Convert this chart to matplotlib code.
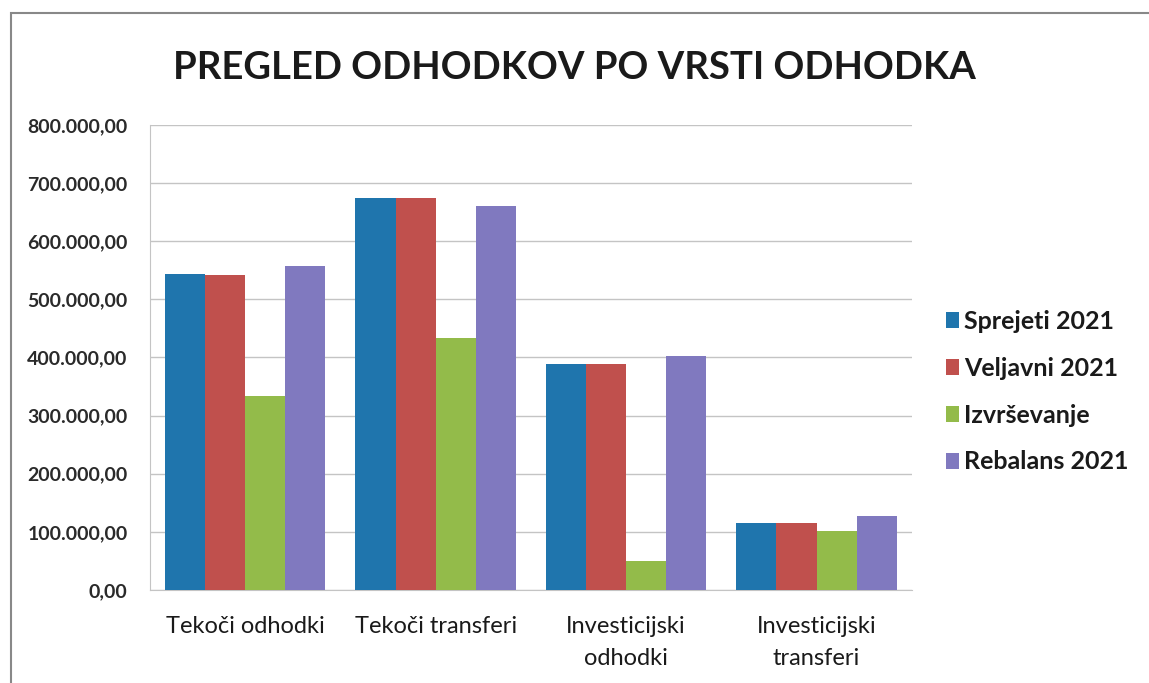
import matplotlib.pyplot as plt
import numpy as np
from matplotlib.patches import Rectangle

categories = ["Tekoči odhodki", "Tekoči transferi", "Investicijski\nodhodki", "Investicijski\ntransferi"]
series_names = ["Sprejeti 2021", "Veljavni 2021", "Izvrševanje", "Rebalans 2021"]
sprejeti = [544000, 675000, 389500, 114500]
veljavni = [541000, 675000, 389500, 114500]
izvrsevanje = [334000, 433500, 50000, 102000]
rebalans = [557000, 660000, 402000, 128000]
yticks = [0, 100000, 200000, 300000, 400000, 500000, 600000, 700000, 800000]

colors = ["#1f75ad", "#c0504d", "#93bb4a", "#8079bf"]
font = "Lato"

fig = plt.figure(figsize=(11.49, 6.83), dpi=100)
ax = fig.add_axes([0.1305, 0.1362, 0.663, 0.681])

x = np.arange(len(categories))
w = 1 / 4.75
for i, vals in enumerate([sprejeti, veljavni, izvrsevanje, rebalans]):
    ax.bar(x + (i - 1.5) * w, vals, width=w, color=colors[i], label=series_names[i], zorder=3)

ax.set_xlim(-0.5, len(categories) - 0.5)
ax.set_ylim(0, 800000)
ax.set_yticks(yticks)
ax.set_yticklabels([f"{v:,.2f}".replace(",", "X").replace(".", ",").replace("X", ".") for v in yticks],
                   fontsize=14, fontfamily=font, fontweight="bold", color="#2a2a2a")
ax.set_xticks(x)
ax.set_xticklabels(categories, fontsize=17, fontfamily=font, color="#1a1a1a", linespacing=1.6)
ax.tick_params(axis="x", length=0, pad=19)
ax.tick_params(axis="y", length=0, pad=16)
ax.grid(axis="y", color="#c4c4c4", linewidth=1, zorder=0)
for s in ["top", "right"]:
    ax.spines[s].set_visible(False)
for s in ["left", "bottom"]:
    ax.spines[s].set_color("#c4c4c4")

leg = ax.legend(loc="center left", bbox_to_anchor=(1.015, 0.426), frameon=False, handlelength=0.55,
                handleheight=0.6, handletextpad=0.2, labelspacing=0.95,
                prop={"family": font, "size": 18, "weight": "bold"})
for t in leg.get_texts():
    t.set_color("#1a1a1a")

fig.text(0.5, 0.9, "PREGLED ODHODKOV PO VRSTI ODHODKA", ha="center", va="center",
         fontsize=27.5, fontweight="bold", fontfamily=font, color="#1a1a1a")

fig.patches.append(Rectangle((0.0096, -0.01), 1.0, 0.991, transform=fig.transFigure,
                             fill=False, edgecolor="#888888", linewidth=1.5))

fig.savefig("out.png", dpi=100)
